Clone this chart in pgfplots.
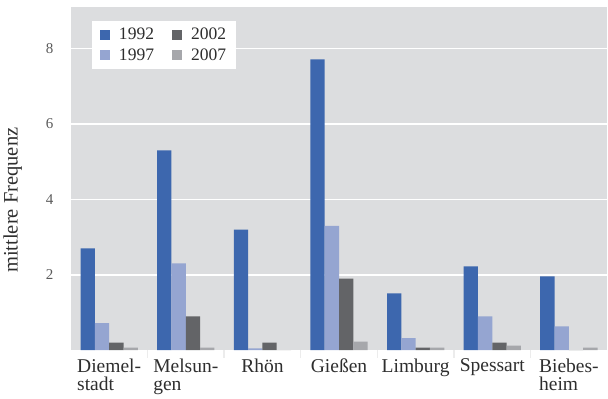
\documentclass[border=0pt]{standalone}
\usepackage{fontspec}
\setmainfont{Liberation Serif}
\usepackage{pgfplots}
\pgfplotsset{compat=1.18}
\definecolor{cA}{HTML}{3D67AE}
\definecolor{cB}{HTML}{95A5D1}
\definecolor{cC}{HTML}{636467}
\definecolor{cD}{HTML}{A6A7AB}
\definecolor{bg}{HTML}{DCDDDF}
\definecolor{txt}{HTML}{2E2E2E}
\definecolor{tnum}{HTML}{5A5A5A}
\begin{document}
\begin{tikzpicture}
\begin{axis}[
  scale only axis,
  width=536pt, height=343pt,
  ybar=0pt, bar width=0.187,
  xmin=-0.5, xmax=6.5, ymin=0, ymax=9.1,
  axis background/.style={fill=bg},
  axis line style={draw=none},
  ytick={2,4,6,8},
  ymajorgrids, grid style={white, line width=1.6pt},
  major tick length=0pt,
  xtick={0,...,6},
  xticklabels={{Diemel-\\stadt},{Melsun-\\gen},Rhön,Gießen,Limburg,Spessart,{Biebes-\\heim}},
  x tick label style={align=left, text=txt, font=\fontsize{19.5}{18.5}\selectfont, yshift=-5pt},
  y tick label style={text=tnum, font=\fontsize{15}{17}\selectfont, xshift=-14pt},
  minor xtick={0.5,1.5,...,5.5},
  minor tick length=8pt,
  minor tick style={draw=white!85!gray, line width=1.5pt},
  xtick pos=bottom, tick align=outside,
  /pgf/number format/assume math mode=true,
  ylabel={mittlere Frequenz},
  ylabel style={text=txt, font=\fontsize{20.5}{22}\selectfont, at={(ticklabel cs:0.437)}},
  ylabel shift=17pt,
  legend columns=2, transpose legend,
  legend style={at={(rel axis cs:0.039,0.959)}, anchor=north west, draw=none, fill=white,
    text=txt, font=\fontsize{17.5}{19}\selectfont, inner xsep=8pt, inner ysep=5pt, row sep=3pt,
    /tikz/every odd column/.append style={column sep=7pt},
    /tikz/every even column/.append style={column sep=16pt}},
  legend image code/.code={\fill[#1] (0pt,-5pt) rectangle (10pt,5pt);},
  draw=none,
]
\addplot[fill=cA, draw=none] coordinates {(0,2.70) (1,5.30) (2,3.20) (3,7.71) (4,1.51) (5,2.22) (6,1.96)};
\addplot[fill=cB, draw=none] coordinates {(0,0.72) (1,2.30) (2,0.05) (3,3.30) (4,0.32) (5,0.90) (6,0.63)};
\addplot[fill=cC, draw=none] coordinates {(0,0.20) (1,0.90) (2,0.20) (3,1.90) (4,0.07) (5,0.20) (6,0.00)};
\addplot[fill=cD, draw=none] coordinates {(0,0.07) (1,0.07) (2,0.00) (3,0.23) (4,0.07) (5,0.12) (6,0.07)};
\legend{1992,1997,2002,2007}
\end{axis}
\path (current axis.north east) ++(0,7pt);
\end{tikzpicture}
\end{document}
